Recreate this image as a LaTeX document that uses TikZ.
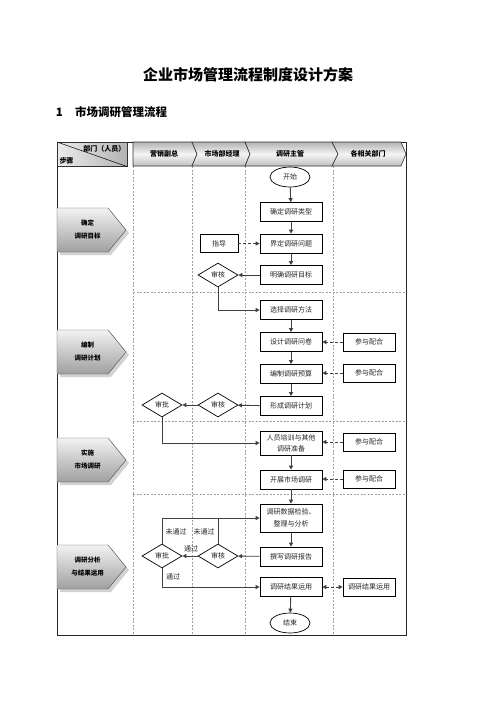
\documentclass[tikz,border=0pt]{standalone}
\usepackage{fontspec}
\setmainfont{Noto Sans CJK SC}
\usetikzlibrary{shapes.geometric,arrows.meta,calc}
\begin{document}
\begin{tikzpicture}[x=1pt,y=-1pt,
  box/.style={draw=black, line width=0.7pt, fill=white, minimum width=62pt, minimum height=19pt, inner sep=1pt, font=\fontsize{7}{10}\selectfont, align=center, text=black!85},
  sbox/.style={box, minimum width=52pt, minimum height=18pt},
  gbox/.style={box, minimum width=38pt, minimum height=18pt},
  term/.style={draw=black, ellipse, line width=0.7pt, fill=white, minimum width=40pt, minimum height=20pt, inner sep=0pt, font=\fontsize{7}{9}\selectfont, text=black!85},
  dia/.style={draw=black, diamond, aspect=1.67, minimum width=40pt, minimum height=24pt, inner sep=0pt, line width=0.7pt, fill=white, font=\fontsize{7}{9}\selectfont, text=black!85},
  flow/.style={-{Triangle[length=4pt,width=4pt]}, line width=0.9pt, draw=black!75},
  plain/.style={line width=0.9pt, draw=black!75},
  dflow/.style={flow, dash pattern=on 3pt off 2pt},
  ddflow/.style={{Triangle[length=4pt,width=4pt]}-{Triangle[length=4pt,width=4pt]}, line width=0.9pt, draw=black!75, dash pattern=on 3pt off 2pt},
  lbl/.style={font=\fontsize{7}{8}\selectfont, inner sep=0pt, text=black!85},
  sep/.style={draw=gray!75, dash pattern=on 2pt off 1.5pt, line width=0.5pt},
  hdr/.style={font=\bfseries\fontsize{7}{8}\selectfont, inner sep=0pt},
  steptxt/.style={font=\bfseries\fontsize{6.5}{13}\selectfont, align=center, inner sep=0pt},
  hshade/.style={draw=black!80, line width=0.6pt, top color=gray!60, bottom color=gray!50, middle color=gray!8},
  pshade/.style={draw=black!70, line width=0.4pt, top color=gray!10, bottom color=gray!75},
]
\useasboundingbox (0,0) rectangle (496,702);
\fill[white] (0,0) rectangle (496,702);

% titles
\node (title) at (248,75) {\bfseries\fontsize{15}{18}\selectfont 企业市场管理流程制度设计方案};
\node (secnum) at (59.5,112) {\bfseries\fontsize{11.5}{14}\selectfont 1};
\node[anchor=west, inner sep=0pt] (sectitle) at (75,112) {\bfseries\fontsize{11.5}{14}\selectfont 市场调研管理流程};

% lane separators
\foreach \x in {133,192,245,333} \draw[sep] (\x,166) -- (\x,635);
\foreach \y in {292.5,421,494} \draw[sep] (133,\y) -- (406,\y);

% frame
\draw[line width=1pt, draw=black!85] (57,142) rectangle (406,635);

% corner cell
\shade[left color=gray!15, right color=gray!60] (57,142) rectangle (127,166.5);
\draw[line width=0.6pt, draw=black!80] (57,142) rectangle (127,166.5);
\draw[line width=0.5pt] (57,142) -- (127,166.5);
\node[hdr, anchor=east] (cornerA) at (125.5,149) {部门（人员）};
\node[hdr] (cornerB) at (66.5,161) {步骤};

% header chevrons
\draw[hshade] (133,142) -- (192,142) -- (197,154) -- (192,166) -- (133,166) -- cycle;
\draw[hshade] (192,142) -- (245,142) -- (250,154) -- (245,166) -- (192,166) -- (197,154) -- cycle;
\draw[hshade] (245,142) -- (332,142) -- (338,154) -- (332,166) -- (245,166) -- (250,154) -- cycle;
\draw[hshade] (332,142) -- (401,142) -- (406,154) -- (401,166) -- (332,166) -- (338,154) -- cycle;
\node[hdr] (h1) at (164,154) {营销副总};
\node[hdr] (h2) at (222,154) {市场部经理};
\node[hdr] (h3) at (290,154) {调研主管};
\node[hdr] (h4) at (368,154) {各相关部门};

% step pentagons
\foreach \t/\l/\ll in {208/确定/调研目标, 330/编制/调研计划, 438/实施/市场调研, 545/调研分析/与结果运用}{
  \fill[gray!35] (60,\t+3) -- (111,\t+3) -- (129,\t+25) -- (111,\t+47) -- (60,\t+47) -- cycle;
  \draw[pshade] (57,\t) -- (108,\t) -- (126,\t+22) -- (108,\t+44) -- (57,\t+44) -- cycle;
  \node[steptxt] at (87.5,\t+21.5) {\l\\\ll};
}

% nodes - goal stage
\node[term] (start) at (290,177) {开始};
\node[box] (qdlx) at (291,212) {确定调研类型};
\node[gbox] (zd) at (219,243.5) {指导};
\node[box] (jdwt) at (291,243.5) {界定调研问题};
\node[box] (mqmb) at (291,275) {明确调研目标};
\node[dia] (sh1) at (218,275) {审核};

% plan stage
\node[box] (xzff) at (291,310) {选择调研方法};
\node[box] (sjwj) at (291,342) {设计调研问卷};
\node[sbox] (cy1) at (369,342) {参与配合};
\node[box] (bzys) at (291,374) {编制调研预算};
\node[sbox] (cy2) at (369,373) {参与配合};
\node[box] (xcjh) at (291,406) {形成调研计划};
\node[dia] (sh2) at (218,405) {审核};
\node[dia] (sp1) at (162,405) {审批};

% implementation stage
\node[box, minimum height=24pt, inner sep=0pt, font=\fontsize{7}{11}\selectfont] (rypx) at (291,443) {人员培训与其他\\调研准备};
\node[sbox] (cy3) at (369,442) {参与配合};
\node[box] (kzdy) at (291,479.5) {开展市场调研};
\node[sbox] (cy4) at (369,479) {参与配合};

% analysis stage
\node[box, minimum height=28pt, inner sep=0pt, font=\fontsize{7}{12}\selectfont] (sjjy) at (291,518) {调研数据检验、\\整理与分析};
\node[box] (zxbg) at (291,556.5) {撰写调研报告};
\node[dia] (sh3) at (218,556) {审核};
\node[dia] (sp2) at (162,556) {审批};
\node[box] (jgyy) at (291,587) {调研结果运用};
\node[sbox] (jgyy2) at (369,587) {调研结果运用};
\node[term] (end) at (290,623) {结束};

% connectors
\draw[flow] (start) -- (qdlx);
\draw[flow] (qdlx) -- (jdwt);
\draw[dflow] (zd) -- (jdwt);
\draw[flow] (jdwt) -- (mqmb);
\draw[flow] (mqmb) -- (sh1);
\draw[flow] (sh1.south) |- (xzff.west);
\draw[flow] (xzff) -- (sjwj);
\draw[flow] (sjwj) -- (bzys);
\draw[flow] (bzys) -- (xcjh);
\draw[dflow] (cy1) -- (sjwj);
\draw[dflow] (cy2) -- (cy2 -| bzys.east);
\draw[flow] (xcjh) -- (sh2);
\draw[flow] (sh2) -- (sp1);
\draw[flow] (sp1.south) |- (rypx.west);
\draw[dflow] (cy3) -- (cy3 -| rypx.east);
\draw[flow] (rypx) -- (kzdy);
\draw[dflow] (cy4) -- (cy4 -| kzdy.east);
\draw[flow] (kzdy) -- (sjjy);
\draw[flow] (sjjy) -- (zxbg);
\draw[flow] (zxbg) -- (sh3);
\draw[flow] (sh3) -- (sp2);
\draw[flow] (sp2.north) |- (sjjy.west);
\draw[plain] (sh3.north) -- (sh3.north |- sjjy.west);
\draw[flow] (sp2.south) |- (jgyy.west);
\draw[ddflow] (jgyy) -- (jgyy2);
\draw[flow] (jgyy) -- (end);

% labels
\node[lbl] (l1) at (176,532) {未通过};
\node[lbl] (l2) at (204,532) {未通过};
\node[lbl] (l3) at (191,549) {通过};
\node[lbl] (l4) at (173,577) {通过};
\end{tikzpicture}
\end{document}
